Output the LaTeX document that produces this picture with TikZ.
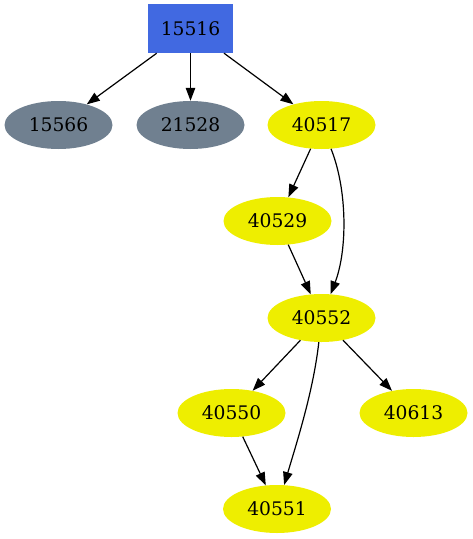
\documentclass[tikz,border=0pt]{standalone}
\usepackage{fontspec}
\setmainfont{DejaVu Serif}
\usepackage{xcolor}
\usepackage{tikz}
\usetikzlibrary{shapes.geometric, arrows.meta, positioning}

\definecolor{rblue}{HTML}{4169E1}
\definecolor{sgray}{HTML}{708090}
\definecolor{ylw}{HTML}{EEEE00}

\begin{document}
\begin{tikzpicture}[
    x=1pt, y=1pt,
    on grid,
    base/.style={inner sep=0pt, font=\fontsize{18.7}{22}\selectfont},
    root/.style={base, rectangle, fill=rblue,
                 minimum width=85pt, minimum height=49pt},
    leaf/.style={base, ellipse, fill=sgray,
                 minimum width=108pt, minimum height=48pt},
    item/.style={base, ellipse, fill=ylw,
                 minimum width=108pt, minimum height=48pt},
    edge/.style={-{Triangle[length=13pt, width=9.5pt]}, line width=1.2pt}
]

\useasboundingbox (0,0) rectangle (473,-539);

%% --- Top row ---
\node[root] (n15516) at (190.5,-28.5) {15516};

\node[leaf, below=96.5pt of n15516]  (n21528) {21528};
\node[leaf, left=132pt of n21528]    (n15566) {15566};
\node[item, right=131pt of n21528]   (n40517) {40517};

%% --- Chain ---
\node[item, below left=96pt and 44pt of n40517]  (n40529) {40529};
\node[item, below right=97pt and 44pt of n40529] (n40552) {40552};

\node[item, below left=95pt and 90pt of n40552]    (n40550) {40550};
\node[item, right=182pt of n40550]                 (n40613) {40613};
\node[item, below right=96pt and 45.5pt of n40550] (n40551) {40551};

%% --- Edges ---
\draw[edge] (n15516) -- (n15566);
\draw[edge] (n15516) -- (n21528);
\draw[edge] (n15516) -- (n40517);

\draw[edge] (n40517) -- (n40529);
\draw[edge] (n40517) .. controls +(26,-65) and +(26,68) .. (n40552);
\draw[edge] (n40529) -- (n40552);

\draw[edge] (n40552) -- (n40550);
\draw[edge] (n40552) -- (n40613);
\draw[edge] (n40552) .. controls +(-8,-72) and +(20.5,69) .. (n40551);
\draw[edge] (n40550) -- (n40551);

\end{tikzpicture}
\end{document}
